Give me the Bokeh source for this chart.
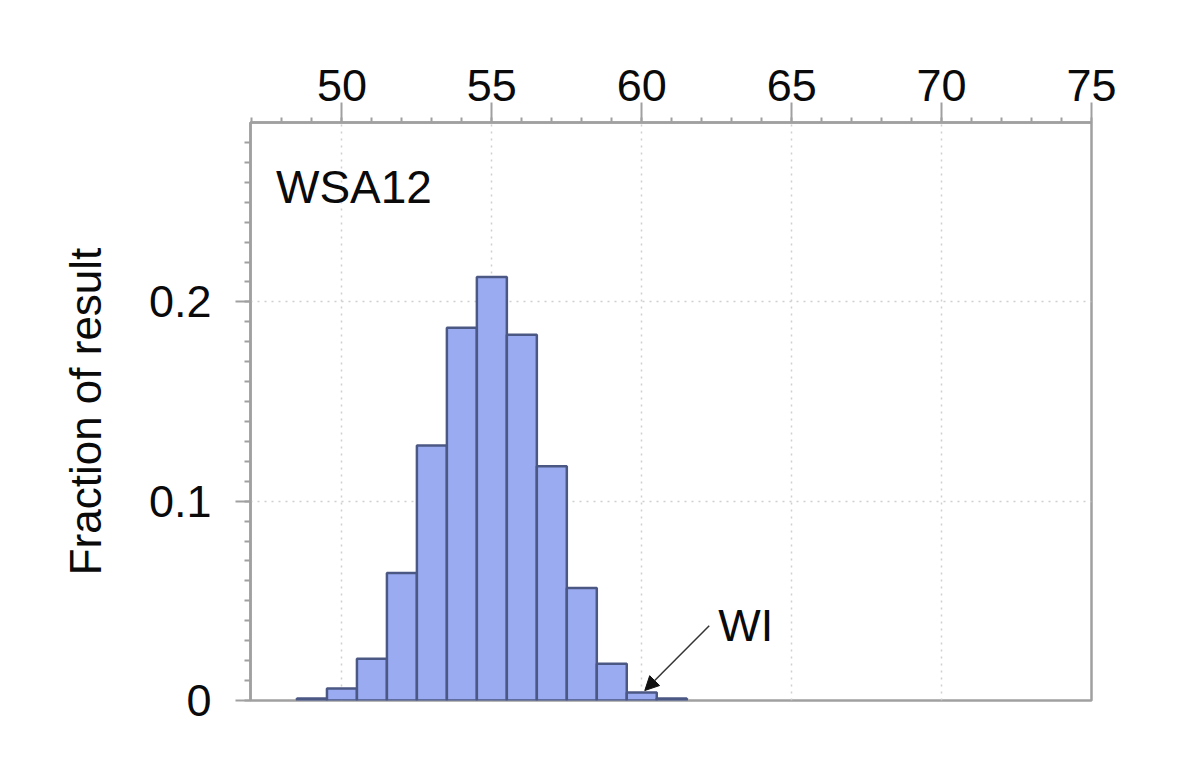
from bokeh.plotting import figure
from bokeh.models import (ColumnDataSource, Range1d, SingleIntervalTicker, Label,
                          Arrow, NormalHead)
from bokeh.embed import file_html
from bokeh.resources import INLINE

# ---- data ----
bin_centers = [49, 50, 51, 52, 53, 54, 55, 56, 57, 58, 59, 60, 61]
fractions = [0.001, 0.006, 0.021, 0.064, 0.128, 0.187, 0.2125, 0.1835, 0.1175,
             0.0565, 0.0185, 0.004, 0.001]
bin_width = 1.0
panel_label = "WSA12"
marker_label = "WI"
y_label = "Fraction of result"
x_ticks_interval = 5
y_tick_labels = {0: "0", 0.1: "0.1", 0.2: "0.2"}

FONT = "Liberation Sans"
GRAY = "#a0a0a0"
TXT = "#0a0a0a"

src = ColumnDataSource(dict(x=bin_centers, top=fractions))

p = figure(width=1184, height=748, output_backend="svg", toolbar_location=None,
           x_range=Range1d(46.95, 75), y_range=Range1d(0, 0.29),
           x_axis_location="above", y_axis_location="left",
           min_border_left=250, min_border_top=122, min_border_right=93,
           min_border_bottom=48)
p.background_fill_color = "white"
p.border_fill_color = "white"
p.outline_line_color = GRAY
p.outline_line_width = 2.5

p.vbar(x="x", top="top", width=bin_width, bottom=0, source=src,
       fill_color="#9aabf2", line_color="#4c5884", line_width=2.5)

# axes
xa = p.xaxis[0]
xa.ticker = SingleIntervalTicker(interval=x_ticks_interval, num_minor_ticks=5)
ya = p.yaxis[0]
ya.ticker = SingleIntervalTicker(interval=0.1, num_minor_ticks=10)
ya.major_label_overrides = y_tick_labels
ya.axis_label = y_label

for ax in (xa, ya):
    ax.axis_line_color = GRAY
    ax.axis_line_width = 2.5
    ax.major_tick_line_color = GRAY
    ax.major_tick_line_width = 2
    ax.minor_tick_line_color = GRAY
    ax.minor_tick_line_width = 2
    ax.major_label_text_font = FONT
    ax.major_label_text_font_size = "45px"
    ax.major_label_text_color = TXT

xa.major_tick_out = 20
xa.major_tick_in = 0
xa.minor_tick_out = 5
xa.minor_tick_in = 0
xa.major_label_standoff = 2

ya.major_tick_out = 15
ya.major_tick_in = 0
ya.minor_tick_out = 6
ya.minor_tick_in = 0
ya.major_label_standoff = 24
ya.axis_label_text_font = FONT
ya.axis_label_text_font_size = "44px"
ya.axis_label_text_font_style = "normal"
ya.axis_label_text_color = TXT
ya.axis_label_standoff = 36

# grid
p.xgrid.grid_line_color = "#cfcfcf"
p.xgrid.grid_line_dash = "2 5"
p.xgrid.grid_line_width = 1.5
p.ygrid.grid_line_color = "#cfcfcf"
p.ygrid.grid_line_dash = "2 5"
p.ygrid.grid_line_width = 1.5

# annotations
panel_pos = (47.8, 0.2575)
marker_text_pos = (62.55, 0.0375)
arrow_start = (62.25, 0.0375)
arrow_end = (60.1, 0.005)

p.add_layout(Label(x=panel_pos[0], y=panel_pos[1], text=panel_label,
                   text_font=FONT, text_font_size="46px", text_baseline="middle",
                   text_color=TXT))
p.add_layout(Label(x=marker_text_pos[0], y=marker_text_pos[1], text=marker_label,
                   text_font=FONT, text_font_size="45px", text_baseline="middle",
                   text_color=TXT))
p.add_layout(Arrow(x_start=arrow_start[0], y_start=arrow_start[1],
                   x_end=arrow_end[0], y_end=arrow_end[1],
                   line_color="#333333", line_width=1.5,
                   end=NormalHead(size=14, fill_color="#111111", line_color="#111111")))

open("out.html", "w").write(file_html(p, INLINE))
